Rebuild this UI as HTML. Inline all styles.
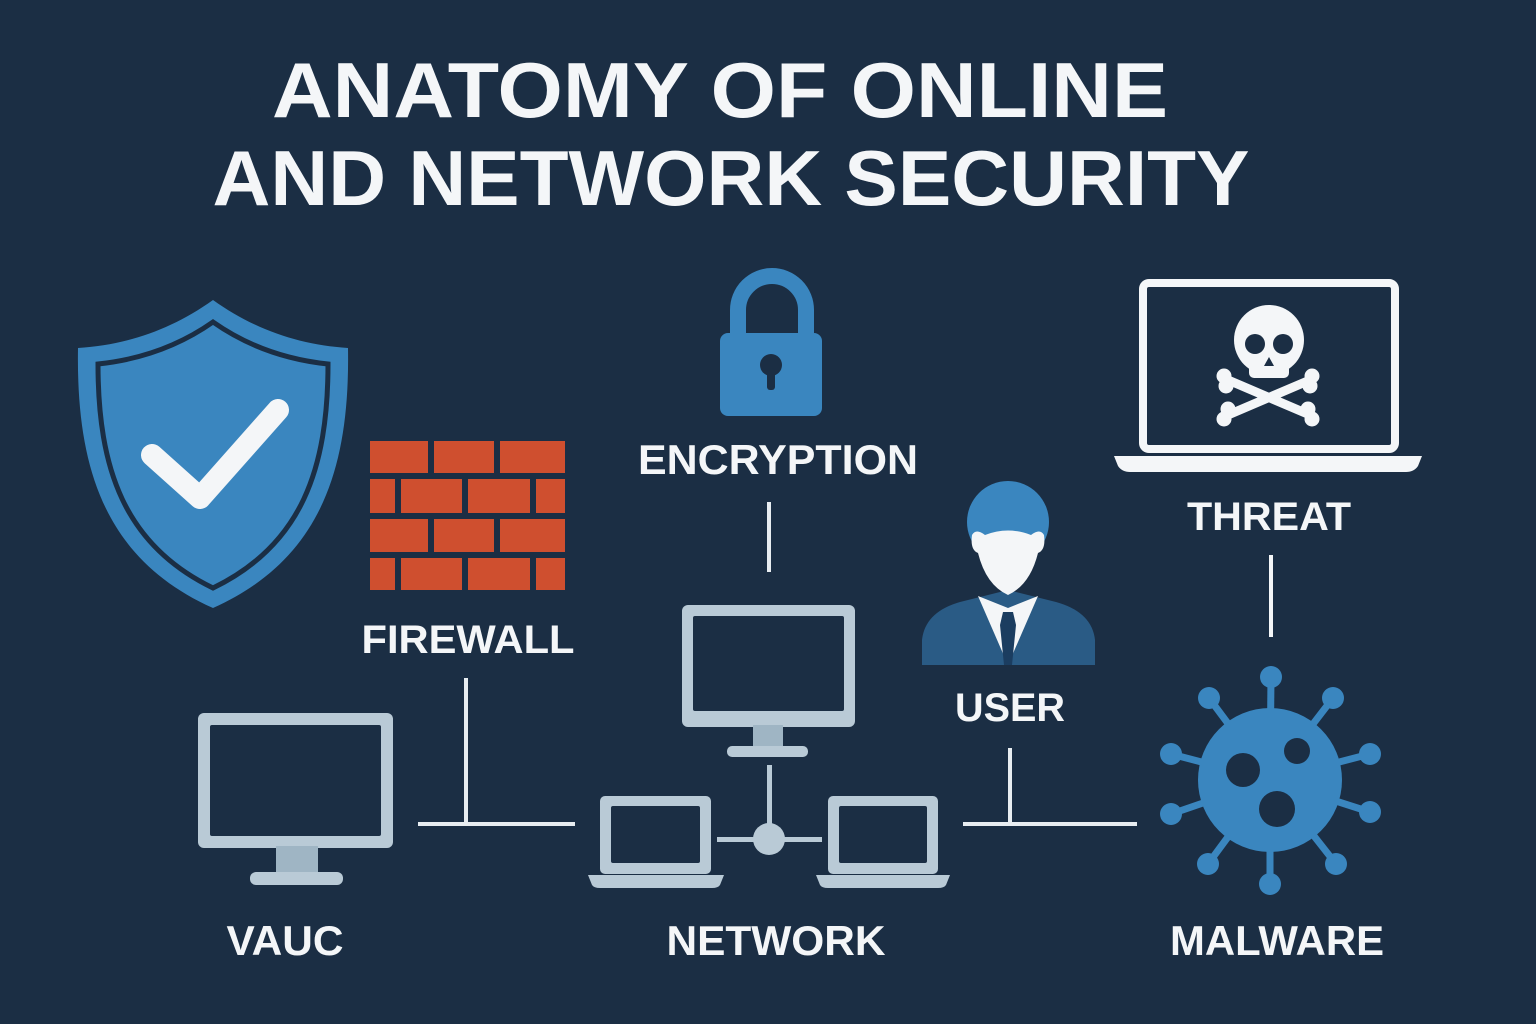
<!DOCTYPE html>
<html><head><meta charset="utf-8"><style>
html,body{margin:0;padding:0;background:#1b2e44;}
svg{display:block}
text{font-family:"Liberation Sans","DejaVu Sans",sans-serif;font-weight:bold;fill:#f4f6f8}
</style></head><body>
<svg width="1536" height="1024" viewBox="0 0 1536 1024" xmlns="http://www.w3.org/2000/svg">
<rect width="1536" height="1024" fill="#1b2e44"/>
<text x="720" y="117" font-size="78" text-anchor="middle" textLength="896" lengthAdjust="spacingAndGlyphs">ANATOMY OF ONLINE</text>
<text x="731" y="205" font-size="78" text-anchor="middle" textLength="1037" lengthAdjust="spacingAndGlyphs">AND NETWORK SECURITY</text>

<!-- shield -->
<path d="M213 300 C255 330 300 345 348 348 C350 470 320 560 213 608 C106 560 76 470 78 348 C126 345 171 330 213 300 Z" fill="#3a86bf"/>
<path d="M213 322 C250 348 290 360 328 364 C328 468 302 545 213 588 C124 545 98 468 98 364 C136 360 176 348 213 322 Z" fill="none" stroke="#1b2e44" stroke-width="5"/>
<polyline points="152,455 200,498 278,410" fill="none" stroke="#f4f6f8" stroke-width="22" stroke-linecap="round" stroke-linejoin="round"/>

<!-- firewall -->
<g fill="#cf4f2f">
<rect x="370" y="441" width="58" height="32"/><rect x="434" y="441" width="60" height="32"/><rect x="500" y="441" width="65" height="32"/>
<rect x="370" y="479" width="25" height="34"/><rect x="401" y="479" width="61" height="34"/><rect x="468" y="479" width="62" height="34"/><rect x="536" y="479" width="29" height="34"/>
<rect x="370" y="519" width="58" height="33"/><rect x="434" y="519" width="60" height="33"/><rect x="500" y="519" width="65" height="33"/>
<rect x="370" y="558" width="25" height="32"/><rect x="401" y="558" width="61" height="32"/><rect x="468" y="558" width="62" height="32"/><rect x="536" y="558" width="29" height="32"/>
</g>
<text x="468" y="653" font-size="40" text-anchor="middle" textLength="213" lengthAdjust="spacingAndGlyphs">FIREWALL</text>

<!-- lock -->
<path d="M738 335 V310 A34 34 0 0 1 806 310 V335" fill="none" stroke="#3a86bf" stroke-width="16"/>
<rect x="720" y="333" width="102" height="83" rx="8" fill="#3a86bf"/>
<circle cx="771" cy="365" r="11" fill="#1b2e44"/><rect x="767" y="368" width="8" height="22" rx="3" fill="#1b2e44"/>
<text x="778" y="474" font-size="42" text-anchor="middle" textLength="280" lengthAdjust="spacingAndGlyphs">ENCRYPTION</text>

<!-- threat laptop -->
<rect x="1143" y="283" width="252" height="166" rx="6" fill="none" stroke="#f4f6f8" stroke-width="8"/>
<path d="M1114 456 H1422 L1418 466 Q1414 472 1406 472 H1130 Q1122 472 1118 466 Z" fill="#f4f6f8"/>
<g fill="#f4f6f8" stroke="#f4f6f8">
<line x1="1228" y1="380" x2="1310" y2="415" stroke-width="9" stroke-linecap="round"/>
<line x1="1228" y1="415" x2="1310" y2="380" stroke-width="9" stroke-linecap="round"/>
<circle cx="1224" cy="376" r="7"/><circle cx="1226" cy="386" r="7"/><circle cx="1312" cy="376" r="7"/><circle cx="1310" cy="386" r="7"/>
<circle cx="1224" cy="419" r="7"/><circle cx="1228" cy="409" r="7"/><circle cx="1312" cy="419" r="7"/><circle cx="1308" cy="409" r="7"/>
<circle cx="1269" cy="340" r="35" stroke="none"/><rect x="1249" y="350" width="40" height="28" rx="5" stroke="none"/>
</g>
<circle cx="1255" cy="344" r="10" fill="#1b2e44"/><circle cx="1283" cy="344" r="10" fill="#1b2e44"/>
<path d="M1269 357 L1264 366 H1274 Z" fill="#1b2e44"/>
<text x="1269" y="530" font-size="40" text-anchor="middle" textLength="164" lengthAdjust="spacingAndGlyphs">THREAT</text>
<line x1="1271" y1="555" x2="1271" y2="637" stroke="#f4f6f8" stroke-width="4"/>

<!-- user -->
<path d="M922 665 V640 Q925 612 960 602 L1008 590 L1056 602 Q1092 612 1095 640 V665 Z" fill="#2a5b85"/>
<path d="M978 596 L1008 665 L1038 596 L1008 608 Z" fill="#f4f6f8"/>
<path d="M1003 612 H1013 L1016 625 L1012 665 H1004 L1000 625 Z" fill="#1b3d60"/>
<circle cx="1008" cy="522" r="41" fill="#3a86bf"/>
<path d="M972 535 Q976 528 985 535 Q1008 526 1031 535 Q1040 528 1044 535 Q1046 550 1038 553 Q1030 585 1008 595 Q986 585 978 553 Q970 550 972 535 Z" fill="#f4f6f8"/>
<text x="1010" y="721" font-size="40" text-anchor="middle" textLength="110" lengthAdjust="spacingAndGlyphs">USER</text>

<!-- connectors -->
<g stroke="#e8edf1" stroke-width="4">
<line x1="769" y1="502" x2="769" y2="572"/>
<line x1="466" y1="678" x2="466" y2="824"/>
<line x1="418" y1="824" x2="575" y2="824"/>
<line x1="1010" y1="748" x2="1010" y2="824"/>
<line x1="963" y1="824" x2="1137" y2="824"/>
</g>

<!-- devices -->
<g fill="#b9cad6">
<rect x="198" y="713" width="195" height="135" rx="6"/><rect x="276" y="846" width="42" height="28" fill="#9fb5c4"/><rect x="250" y="872" width="93" height="13" rx="6"/>
<rect x="682" y="605" width="173" height="122" rx="6"/><rect x="753" y="725" width="30" height="22" fill="#9fb5c4"/><rect x="727" y="746" width="81" height="11" rx="5"/>
<rect x="600" y="796" width="111" height="78" rx="5"/><path d="M588 875 H724 L720 885 Q718 888 712 888 H600 Q594 888 592 885 Z"/>
<rect x="828" y="796" width="110" height="78" rx="5"/><path d="M816 875 H950 L946 885 Q944 888 938 888 H828 Q822 888 820 885 Z"/>
<rect x="717" y="837" width="105" height="5"/><rect x="767" y="765" width="5" height="70"/><circle cx="769" cy="839" r="16"/>
</g>
<g fill="#1b2e44">
<rect x="210" y="725" width="171" height="111" rx="2"/>
<rect x="693" y="616" width="151" height="95" rx="2"/>
<rect x="611" y="806" width="89" height="57" rx="2"/>
<rect x="839" y="806" width="88" height="57" rx="2"/>
</g>
<text x="285" y="955" font-size="42" text-anchor="middle" textLength="117" lengthAdjust="spacingAndGlyphs">VAUC</text>
<text x="776" y="955" font-size="42" text-anchor="middle" textLength="219" lengthAdjust="spacingAndGlyphs">NETWORK</text>
<text x="1277" y="955" font-size="42" text-anchor="middle" textLength="214" lengthAdjust="spacingAndGlyphs">MALWARE</text>

<!-- virus -->
<g fill="#3a86bf" stroke="#3a86bf" stroke-width="7">
<line x1="1270" y1="780" x2="1271" y2="677"/><line x1="1270" y1="780" x2="1209" y2="698"/><line x1="1270" y1="780" x2="1333" y2="698"/>
<line x1="1270" y1="780" x2="1171" y2="754"/><line x1="1270" y1="780" x2="1370" y2="754"/><line x1="1270" y1="780" x2="1171" y2="814"/>
<line x1="1270" y1="780" x2="1370" y2="812"/><line x1="1270" y1="780" x2="1208" y2="864"/><line x1="1270" y1="780" x2="1336" y2="864"/>
<line x1="1270" y1="780" x2="1270" y2="884"/>
</g>
<g fill="#3a86bf">
<circle cx="1270" cy="780" r="72"/>
<circle cx="1271" cy="677" r="11"/><circle cx="1209" cy="698" r="11"/><circle cx="1333" cy="698" r="11"/>
<circle cx="1171" cy="754" r="11"/><circle cx="1370" cy="754" r="11"/><circle cx="1171" cy="814" r="11"/>
<circle cx="1370" cy="812" r="11"/><circle cx="1208" cy="864" r="11"/><circle cx="1336" cy="864" r="11"/>
<circle cx="1270" cy="884" r="11"/>
</g>
<g fill="#1b2e44">
<circle cx="1243" cy="770" r="17"/><circle cx="1297" cy="751" r="13"/><circle cx="1277" cy="809" r="18"/>
</g>
</svg>
</body></html>
